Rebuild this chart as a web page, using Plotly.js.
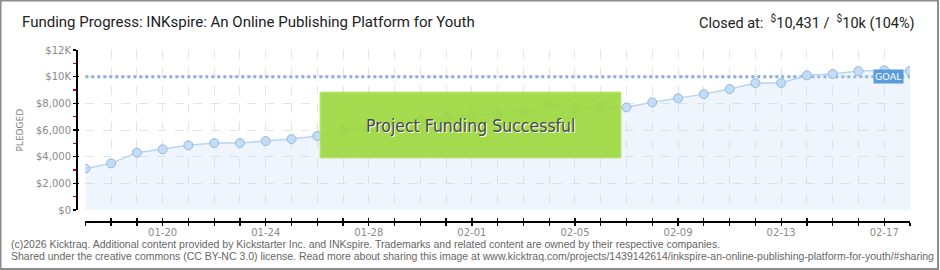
<!DOCTYPE html>
<html>
<head>
<meta charset="utf-8">
<script src="https://cdn.plot.ly/plotly-3.0.1.min.js"></script>
<style>
html,body{margin:0;padding:0;background:#fff;}
#chart{width:940px;height:270px;}
</style>
</head>
<body>
<div id="chart"></div>
<script>
// ---- data ----
const dates = ['2026-01-17','2026-01-18','2026-01-19','2026-01-20','2026-01-21','2026-01-22','2026-01-23',
  '2026-01-24','2026-01-25','2026-01-26','2026-01-27','2026-01-28','2026-01-29','2026-01-30','2026-01-31',
  '2026-02-01','2026-02-02','2026-02-03','2026-02-04','2026-02-05','2026-02-06','2026-02-07','2026-02-08',
  '2026-02-09','2026-02-10','2026-02-11','2026-02-12','2026-02-13','2026-02-14','2026-02-15','2026-02-16',
  '2026-02-17','2026-02-18'];
const pledged = [3100,3500,4300,4550,4850,5020,5020,5170,5320,5550,6000,6150,6450,6700,6950,
  7125,7200,7475,7850,7625,7725,7700,8075,8375,8690,9075,9525,9525,10100,10200,10420,10480,10431];
const goal = 10000;
const xStart = '2026-01-17';
const xEnd = '2026-02-18';
const yTickVals = [0,2000,4000,6000,8000,10000,12000];
const yTickText = ['$0','$2,000','$4,000','$6,000','$8,000','$10K','$12K'];
const yMinorVals = [1000,3000,5000,7000,9000,11000];
const titleText = 'Funding Progress: INKspire: An Online Publishing Platform for Youth';
const closedText = 'Closed at:  <sup>$</sup>10,431 /  <sup>$</sup>10k (104%)';
const bannerText = 'Project Funding Successful';
const footer1 = '(c)2026 Kicktraq. Additional content provided by Kickstarter Inc. and INKspire. Trademarks and related content are owned by their respective companies.';
const footer2 = 'Shared under the creative commons (CC BY-NC 3.0) license. Read more about sharing this image at www.kicktraq.com/projects/1439142614/inkspire-an-online-publishing-platform-for-youth/#sharing';

const DAY = 86400000;
const tickFont = {family:'DejaVu Sans', size:10, color:'#8a8a8a'};

const traces = [
  {x:[xStart,xEnd], y:[goal,goal], mode:'lines', line:{color:'#86afe0', width:3, dash:'dot'},
   hoverinfo:'skip', showlegend:false},
  {x:dates, y:pledged, mode:'lines+markers', fill:'tozeroy', fillcolor:'rgba(190,215,245,0.25)',
   line:{color:'#b7d4f3', width:1.5},
   marker:{size:9, color:'#c3dcf7', line:{color:'#98b8dc', width:1}},
   hoverinfo:'skip', showlegend:false},
  {x:[xStart], y:[null], xaxis:'x2', yaxis:'y', mode:'markers', hoverinfo:'skip', showlegend:false},
  {x:[xStart], y:[null], xaxis:'x', yaxis:'y2', mode:'markers', hoverinfo:'skip', showlegend:false},
  {x:[xStart], y:[null], xaxis:'x', yaxis:'y3', mode:'markers', hoverinfo:'skip', showlegend:false}
];

const xCommon = {
  type:'date', domain:[0.0112,1], range:[xStart,xEnd], anchor:'free', position:0,
  tickformat:'%m-%d', dtick:4*DAY, tick0:'2026-01-20', tickfont:tickFont,
  ticklen:3, tickwidth:1.3, tickcolor:'#000', zeroline:false, fixedrange:true
};
const yCommon = {
  domain:[0.0643,1], range:[0,12000], anchor:'free', position:0,
  tickmode:'array', tickvals:yTickVals, ticktext:yTickText, tickfont:tickFont,
  ticklen:3, tickwidth:1.3, tickcolor:'#000', zeroline:false, fixedrange:true
};

const layout = {
  width:940, height:270,
  margin:{l:76, r:30, t:50, b:49, pad:0},
  paper_bgcolor:'#fff', plot_bgcolor:'rgba(0,0,0,0)',
  showlegend:false,
  xaxis:Object.assign({}, xCommon, {
    ticks:'outside', showline:true, linecolor:'#000', linewidth:1.5, ticklabelstandoff:-2,
    showgrid:true, gridcolor:'#e4e4e4', griddash:'dash', gridwidth:1,
    minor:{dtick:DAY, tick0:xStart, ticks:'outside', ticklen:3, tickwidth:1.3, tickcolor:'#000',
           showgrid:true, gridcolor:'#e4e4e4', griddash:'dash', gridwidth:1}
  }),
  xaxis2:Object.assign({}, xCommon, {
    overlaying:'x', ticks:'inside', showticklabels:false, showline:false, showgrid:false,
    minor:{dtick:DAY, tick0:xStart, ticks:'inside', ticklen:3, tickwidth:1.3, tickcolor:'#000', showgrid:false}
  }),
  yaxis:Object.assign({}, yCommon, {
    ticks:'outside', showline:true, linecolor:'#000', linewidth:1.5,
    showgrid:true, gridcolor:'#e4e4e4', griddash:'dash', gridwidth:1
  }),
  yaxis2:Object.assign({}, yCommon, {
    overlaying:'y', ticks:'inside', ticklen:2, showticklabels:false, showline:false, showgrid:false
  }),
  yaxis3:Object.assign({}, yCommon, {
    overlaying:'y', tickvals:yMinorVals, ticktext:yMinorVals.map(String), ticks:'outside', ticklen:3,
    tickcolor:'#e00000', showticklabels:false, showline:false, showgrid:false
  }),
  shapes:[
    {type:'rect', xref:'paper', yref:'paper', x0:0.2926, x1:0.6535, y0:0.3684, y1:0.7544,
     fillcolor:'#9cd83c', opacity:0.9, line:{color:'#bde67f', width:1}, layer:'above'},
    {type:'rect', xref:'paper', yref:'paper', x0:-0.0905, x1:1.0336, y0:-0.2807, y1:1.2895,
     fillcolor:'rgba(0,0,0,0)', line:{color:'#8c8c8c', width:2}, layer:'above'}
  ],
  annotations:[
    {text:titleText, xref:'paper', yref:'paper', x:-0.0671, y:1.1637, xanchor:'left', yanchor:'middle',
     showarrow:false, font:{family:'Roboto', size:15, color:'#222'}},
    {text:closedText, xref:'paper', yref:'paper', x:1.0084, y:1.1637, xanchor:'right', yanchor:'middle',
     showarrow:false, font:{family:'Roboto', size:14.5, color:'#222'}},
    {text:'GOAL', xref:'x', yref:'y', x:xEnd, y:goal, xanchor:'right', yanchor:'middle', xshift:-6,
     showarrow:false, bgcolor:'#5a9bdc', borderpad:1, font:{family:'DejaVu Sans', size:9.5, color:'#fff'}},
    {text:bannerText, xref:'paper', yref:'paper', x:0.473, y:0.5556, xanchor:'center', yanchor:'middle',
     showarrow:false, font:{family:'DejaVu Sans Condensed, Liberation Sans Narrow, Roboto', size:17.5, color:'#4a4a4a',
     shadow:'1px 1px 0px #ffffff'}},
    {text:'PLEDGED', xref:'paper', yref:'paper', x:-0.0677, y:0.532, xanchor:'center', yanchor:'middle',
     textangle:-90, showarrow:false, font:{family:'DejaVu Sans', size:9, color:'#808080'}},
    {text:footer1, xref:'paper', yref:'paper', x:-0.0803, y:-0.1345, xanchor:'left', yanchor:'middle',
     showarrow:false, font:{family:'Liberation Sans', size:10.5, color:'#666'}},
    {text:footer2, xref:'paper', yref:'paper', x:-0.0803, y:-0.2018, xanchor:'left', yanchor:'middle',
     showarrow:false, font:{family:'Liberation Sans', size:10.5, color:'#666'}}
  ]
};

Plotly.newPlot('chart', traces, layout, {staticPlot:true, displayModeBar:false});
</script>
</body>
</html>
